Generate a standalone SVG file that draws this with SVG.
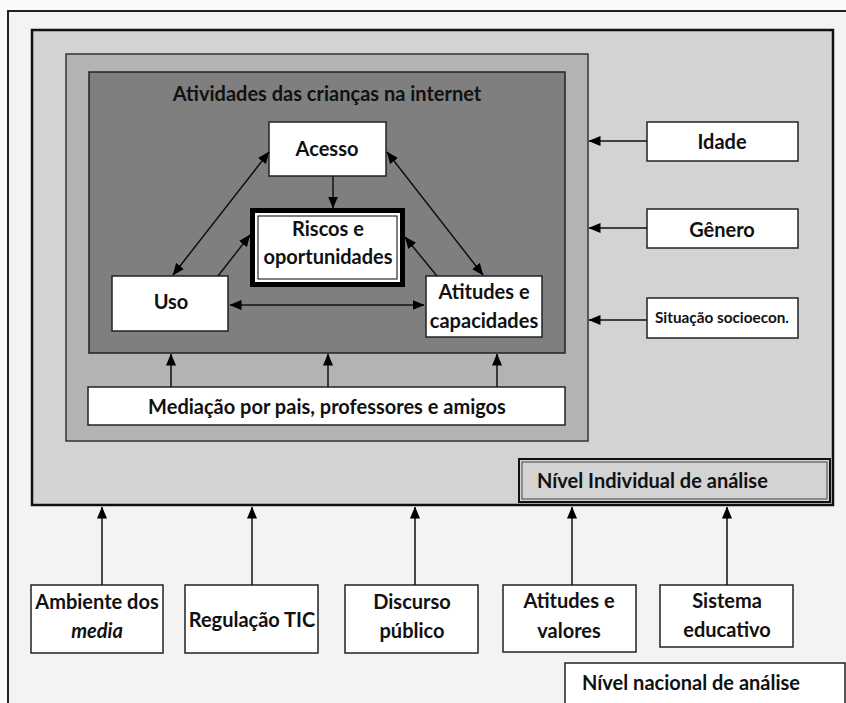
<svg xmlns="http://www.w3.org/2000/svg" width="846" height="703" viewBox="0 0 846 703">
<defs>
<marker id="ah" viewBox="0 0 12 10" refX="11.5" refY="5" markerWidth="12" markerHeight="10" markerUnits="userSpaceOnUse" orient="auto-start-reverse">
<path d="M0,0 L12,5 L0,10 Z" fill="#000"/>
</marker>
<style>
text{font-family:Lato,"Liberation Sans",Arial,sans-serif;font-weight:bold;fill:#111;text-anchor:middle}
.box{fill:#fff;stroke:#222;stroke-width:1.5}
.con line{stroke:#111;stroke-width:1.5;marker-end:url(#ah)}
.con .bi{marker-start:url(#ah)}
</style>
</defs>
<rect x="0" y="0" width="846" height="703" fill="#fafafa"/>
<g id="national-frame">
<rect x="8" y="11" width="850" height="710" fill="#f3f3f3" stroke="#222" stroke-width="2"/>
</g>
<g id="individual-frame">
<rect x="32" y="30" width="801" height="475" fill="#d3d3d3" stroke="#111" stroke-width="2.5"/>
</g>
<g id="mediation-frame">
<rect x="66" y="54" width="522" height="387" fill="#b3b3b3" stroke="#333" stroke-width="1.5"/>
</g>
<g id="activities">
<rect x="89" y="72" width="476" height="281" fill="#7f7f7f" stroke="#222" stroke-width="1.5"/>
<text x="327" y="101" font-size="20">Atividades das crianças na internet</text>
</g>
<g id="acesso">
<rect class="box" x="269" y="122" width="117" height="54"/>
<text x="327" y="156" font-size="20">Acesso</text>
</g>
<g id="riscos">
<rect x="252.5" y="210.5" width="150" height="74" fill="#fff" stroke="#000" stroke-width="5"/>
<rect x="258" y="216" width="139" height="63" fill="none" stroke="#000" stroke-width="1"/>
<text x="328" y="236" font-size="20">Riscos e</text>
<text x="328" y="264" font-size="20">oportunidades</text>
</g>
<g id="uso">
<rect class="box" x="112" y="276" width="116" height="55"/>
<text x="171" y="309" font-size="20">Uso</text>
</g>
<g id="atitudes-capacidades">
<rect class="box" x="426" y="276" width="116" height="61"/>
<text x="484" y="299" font-size="20">Atitudes e</text>
<text x="484" y="328" font-size="20">capacidades</text>
</g>
<g id="mediacao">
<rect class="box" x="88" y="387" width="477" height="38"/>
<text x="327" y="414" font-size="20">Mediação por pais, professores e amigos</text>
</g>
<g id="idade">
<rect class="box" x="647" y="122" width="151" height="39"/>
<text x="722" y="149" font-size="20">Idade</text>
</g>
<g id="genero">
<rect class="box" x="647" y="209" width="151" height="39"/>
<text x="722" y="237" font-size="20">Gênero</text>
</g>
<g id="situacao">
<rect class="box" x="647" y="298" width="151" height="40"/>
<text x="722" y="323" font-size="15.3">Situação socioecon.</text>
</g>
<g id="nivel-individual">
<rect x="519" y="459" width="311" height="43" fill="#d3d3d3" stroke="#111" stroke-width="2"/>
<rect x="522" y="462" width="305" height="37" fill="none" stroke="#444" stroke-width="1"/>
<text x="537" y="488" font-size="20" style="text-anchor:start">Nível Individual de análise</text>
</g>
<g id="ambiente">
<rect class="box" x="31" y="585" width="132" height="68"/>
<text x="97" y="609" font-size="20">Ambiente dos</text>
<text x="97" y="638" font-size="20" font-style="italic">media</text>
</g>
<g id="regulacao">
<rect class="box" x="185" y="585" width="133" height="68"/>
<text x="252" y="627" font-size="20">Regulação TIC</text>
</g>
<g id="discurso">
<rect class="box" x="345" y="585" width="133" height="68"/>
<text x="412" y="609" font-size="20">Discurso</text>
<text x="412" y="638" font-size="20">público</text>
</g>
<g id="atitudes-valores">
<rect class="box" x="503" y="585" width="133" height="67"/>
<text x="569" y="608" font-size="20">Atitudes e</text>
<text x="569" y="638" font-size="20">valores</text>
</g>
<g id="sistema">
<rect class="box" x="660" y="585" width="133" height="62"/>
<text x="727" y="608" font-size="20">Sistema</text>
<text x="727" y="637" font-size="20">educativo</text>
</g>
<g id="nivel-nacional">
<rect class="box" x="565" y="663" width="280" height="50"/>
<text x="582" y="690" font-size="20" style="text-anchor:start">Nível nacional de análise</text>
</g>
<g id="connectors" class="con">
<line x1="333" y1="176" x2="333" y2="208"/>
<line class="bi" x1="269" y1="152" x2="173" y2="275"/>
<line class="bi" x1="387" y1="152" x2="483" y2="275"/>
<line x1="218" y1="276" x2="250" y2="235"/>
<line x1="437" y1="276" x2="405" y2="237"/>
<line class="bi" x1="230" y1="305" x2="424" y2="305"/>
<line x1="171" y1="387" x2="171" y2="354"/>
<line x1="328" y1="387" x2="328" y2="354"/>
<line x1="497" y1="387" x2="497" y2="354"/>
<line x1="647" y1="141" x2="589" y2="141"/>
<line x1="647" y1="228" x2="589" y2="228"/>
<line x1="647" y1="320" x2="589" y2="320"/>
<line x1="102" y1="585" x2="102" y2="507"/>
<line x1="252" y1="585" x2="252" y2="507"/>
<line x1="415" y1="585" x2="415" y2="507"/>
<line x1="572" y1="585" x2="572" y2="507"/>
<line x1="727" y1="585" x2="727" y2="507"/>
</g>
</svg>
